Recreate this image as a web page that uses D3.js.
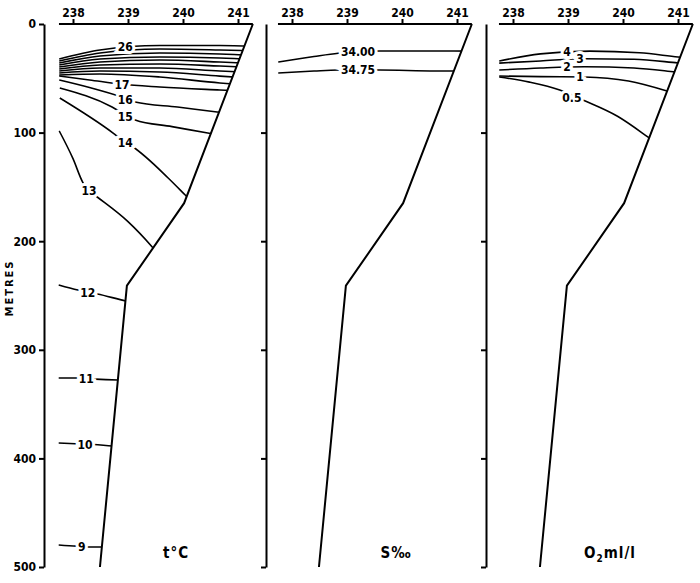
<!DOCTYPE html>
<html><head><meta charset="utf-8">
<script src="https://cdn.jsdelivr.net/npm/d3@7"></script>
<style>
html,body{margin:0;padding:0;background:#fff;}
svg{display:block;}
text{font-family:"Liberation Sans Narrow","DejaVu Sans Condensed",sans-serif;font-weight:bold;fill:#000;}
</style></head>
<body>
<svg id="chart" width="700" height="583"></svg>
<script>
// ---------------- DATA ----------------
const lonTicks = [238, 239, 240, 241];
const depthTicks = [0, 100, 200, 300, 400, 500];
const dividerTicks = [100, 200, 300, 400, 500];
// station track: [longitude, depth m]
const track = [[241.27, 0], [240.02, 165], [238.98, 241], [238.49, 500]];

// Temperature (°C) isolines: [longitude, depth]
const tempLevels = ["26","25","24","23","22","21","20","19","18","17","16","15","14","13","12","11","10","9"];
const tempLines = [
  [[237.75,32.2],[238.49,23.9],[239.58,19.8],[240.67,19.8],[241.45,20.8]],
  [[237.75,34.1],[238.49,26.7],[239.58,23.0],[240.67,23.9],[241.45,24.9]],
  [[237.75,35.9],[238.49,29.5],[239.58,26.7],[240.67,27.6],[241.45,29.5]],
  [[237.75,37.8],[238.49,32.2],[239.58,30.4],[240.67,31.3],[241.45,33.1]],
  [[237.75,39.6],[238.49,35.0],[239.58,33.1],[240.67,35.0],[241.45,36.8]],
  [[237.75,41.4],[238.49,37.8],[239.58,36.8],[240.67,38.7],[241.45,40.5]],
  [[237.75,43.3],[238.49,40.5],[239.58,40.5],[240.67,43.3],[241.45,45.1]],
  [[237.75,45.1],[238.49,43.3],[239.58,44.2],[240.67,48.0],[241.45,50.6]],
  [[237.75,47.0],[238.49,46.0],[239.58,48.8],[240.67,54.3],[241.45,57.1]],
  [[237.75,47.9],[238.30,51.5],[238.89,55.5],[239.58,58.0],[240.67,60.8],[241.45,62.6]],
  [[237.75,51.6],[238.30,58.5],[238.90,67.5],[239.13,71.8],[239.90,76.5],[240.62,81.0],[241.45,85.6]],
  [[237.76,58.9],[238.71,76.4],[238.95,83.5],[239.13,88.4],[239.80,94.5],[240.45,100.4],[241.45,109.6]],
  [[237.76,68.1],[238.73,100.4],[238.95,109.0],[239.09,113.3],[239.73,141.8],[240.04,157.5],[240.31,171.3]],
  [[237.75,98.5],[238.00,124.0],[238.18,146.0],[238.29,153.5],[238.44,159.3],[239.00,182.0],[239.44,205.3],[239.76,225.0]],
  [[237.74,240.3],[238.09,245.0],[238.27,247.2],[238.44,248.6],[238.96,255.0],[239.30,258.0]],
  [[237.74,326.0],[238.07,326.0],[238.24,326.5],[238.40,327.0],[238.82,327.8],[239.10,328.0]],
  [[237.74,385.8],[238.04,386.5],[238.22,387.0],[238.38,387.2],[238.71,388.6],[239.00,389.0]],
  [[237.74,479.7],[238.07,480.8],[238.16,481.0],[238.22,481.6],[238.53,481.6],[238.80,482.0]]
];
// label anchors for the labelled temperature isolines
const tempLabelText = ["26","17","16","15","14","13","12","11","10","9"];
const tempLabelPos = [[238.95,20.8],[238.89,55.5],[238.95,69.5],[238.95,85.5],[238.95,109.5],[238.29,153.5],[238.27,247.2],[238.24,326.5],[238.22,387.0],[238.16,481.0]];

// Salinity (‰) isolines
const salLevels = ["34.00","34.75"];
const salLines = [
  [[237.75,35.0],[238.40,30.0],[238.84,27.0],[239.60,24.9],[240.50,24.9],[241.45,25.0]],
  [[237.75,45.1],[238.40,43.3],[238.84,42.4],[239.60,42.4],[240.60,43.3],[241.45,43.3]]
];
const salLabelPos = [[239.20,25.8],[239.20,42.4]];

// Oxygen (ml/l) isolines
const oxyLevels = ["4","3","2","1","0.5"];
const oxyLines = [
  [[237.75,34.1],[238.50,27.5],[239.40,25.0],[240.30,26.5],[241.00,30.4],[241.45,32.5]],
  [[237.75,36.0],[238.50,34.0],[239.30,32.0],[240.20,32.5],[241.00,35.9],[241.45,38.0]],
  [[237.75,42.4],[238.50,40.5],[239.30,39.3],[240.20,40.5],[240.95,44.2],[241.45,47.0]],
  [[237.75,47.9],[238.50,48.5],[239.30,48.8],[240.10,52.5],[240.80,61.7],[241.30,70.0]],
  [[237.75,48.8],[238.30,53.5],[238.85,60.8],[239.27,70.0],[239.90,85.0],[240.45,104.0],[240.80,117.0]]
];
const oxyLabelPos = [[238.98,25.3],[239.22,32.2],[238.98,39.6],[239.22,48.8],[239.07,67.5]];

const panelTitles = ["t°C", "S‰", "O₂ml/l"];

// ---------------- DRAW ----------------
const svg = d3.select("#chart");
const x = d3.scaleLinear().domain([238, 241]).range([73, 238]);
const y = d3.scaleLinear().domain([0, 500]).range([24, 567]);
const panelOffsets = [0, 219, 440];
const line = d3.line().x(d => x(d[0])).y(d => y(d[1])).curve(d3.curveMonotoneX);
const straight = d3.line().x(d => x(d[0])).y(d => y(d[1]));

// clip region left of the station track
const clipPoly = [[237.0, 0]].concat(track).concat([[237.0, 500]]);
svg.append("defs").append("clipPath").attr("id", "trackClip")
  .append("path").attr("d", straight(clipPoly) + "Z");

// left depth axis
const yAxis = svg.append("g").attr("transform", "translate(44,0)")
  .call(d3.axisLeft(y).tickValues(depthTicks).tickSize(5).tickSizeOuter(0).tickPadding(3));
yAxis.selectAll("path,line").attr("stroke", "#000").attr("stroke-width", 2);
yAxis.selectAll("text").attr("font-size", 12).attr("font-family", null);

svg.append("text").attr("transform", "translate(13,288) rotate(-90)")
  .attr("text-anchor", "middle").attr("font-size", 11).attr("letter-spacing", "2")
  .text("METRES");

// dividers between panels
[266, 486].forEach(px => {
  const g = svg.append("g").attr("transform", `translate(${px},0)`)
    .call(d3.axisLeft(y).tickValues(dividerTicks).tickSize(5).tickSizeOuter(0).tickFormat(""));
  g.selectAll("path,line").attr("stroke", "#000").attr("stroke-width", 2);
});

const panels = [
  {levels: tempLines, labels: tempLabelText, pos: tempLabelPos},
  {levels: salLines, labels: salLevels, pos: salLabelPos},
  {levels: oxyLines, labels: oxyLevels, pos: oxyLabelPos}
];

panels.forEach((p, i) => {
  const g = svg.append("g").attr("transform", `translate(${panelOffsets[i]},0)`);
  // top axis
  const ax = g.append("g").attr("transform", `translate(0,${y(0)})`)
    .call(d3.axisTop(x).tickValues(lonTicks).tickSize(5).tickPadding(2).tickFormat(d3.format("d")));
  ax.select(".domain").remove();
  ax.selectAll("line").attr("stroke", "#000").attr("stroke-width", 2);
  ax.selectAll("text").attr("font-size", 12).attr("font-family", null);
  g.append("line").attr("x1", x(237.745)).attr("x2", x(track[0][0]))
    .attr("y1", y(0)).attr("y2", y(0)).attr("stroke", "#000").attr("stroke-width", 2);

  // isolines clipped to the track
  g.append("g").attr("clip-path", "url(#trackClip)")
    .selectAll("path").data(p.levels).join("path")
    .attr("d", line).attr("fill", "none").attr("stroke", "#000").attr("stroke-width", 1.6);

  // track
  g.append("path").attr("d", straight(track)).attr("fill", "none")
    .attr("stroke", "#000").attr("stroke-width", 2);

  // labels
  g.selectAll("text.lab").data(p.pos).join("text").attr("class", "lab")
    .attr("x", d => x(d[0])).attr("y", d => y(d[1]))
    .attr("dy", "0.36em").attr("text-anchor", "middle").attr("font-size", 12)
    .attr("stroke", "#fff").attr("stroke-width", 6).attr("paint-order", "stroke")
    .text((d, k) => p.labels[k]);
});

// panel titles
const titleX = [176, 396, 610];
panelTitles.forEach((t, i) => {
  const tx = svg.append("text").attr("x", titleX[i]).attr("y", 558)
    .attr("text-anchor", "middle").attr("font-size", 15).attr("letter-spacing", "1");
  if (i === 2) {
    tx.append("tspan").text("O");
    tx.append("tspan").attr("font-size", 10).attr("dy", 4).text("2");
    tx.append("tspan").attr("dy", -4).text("ml/l");
  } else tx.text(t);
});
</script>
</body></html>
